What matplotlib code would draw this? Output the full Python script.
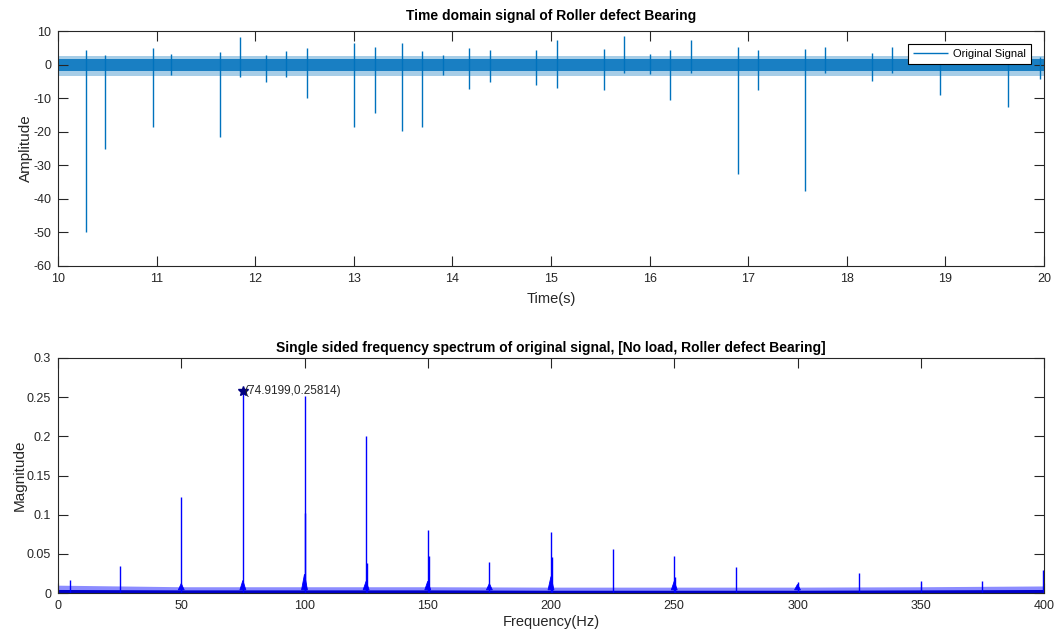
import matplotlib.pyplot as plt

plt.rcParams['font.family'] = ['Liberation Sans', 'DejaVu Sans']
plt.rcParams['axes.unicode_minus'] = False

# ---- time-domain record, 10 s to 20 s ----
# steady vibration band (core and outer fringe), read at the record ends
band_t = [10.0, 20.0]
band_lo = [-1.8, -1.8]
band_hi = [1.7, 1.7]
fringe_lo = [-3.3, -3.3]
fringe_hi = [2.5, 2.5]

# impact events: time, lowest and highest excursion
spike_t = [10.28, 10.48, 10.96, 11.15, 11.64, 11.85, 12.11, 12.31, 12.53,
           13.00, 13.21, 13.49, 13.69, 13.90, 14.17, 14.38, 14.85, 15.06,
           15.54, 15.74, 16.00, 16.21, 16.42, 16.90, 17.10, 17.58, 17.78,
           18.26, 18.46, 18.95, 19.63, 19.96]
spike_lo = [-50.0, -25.0, -18.5, -3.0, -21.5, -3.6, -5.1, -3.6, -10.1,
            -18.5, -14.5, -19.8, -18.5, -3.0, -7.4, -5.1, -6.0, -7.0,
            -7.6, -2.5, -2.8, -10.6, -2.5, -32.5, -7.6, -37.6, -2.5,
            -4.8, -2.5, -9.1, -12.6, -4.3]
spike_hi = [4.3, 2.9, 5.0, 3.0, 3.6, 8.3, 2.9, 3.9, 4.8,
            6.3, 5.3, 6.3, 3.9, 2.8, 5.0, 4.3, 4.3, 7.3,
            4.6, 8.5, 3.0, 4.3, 7.3, 5.3, 4.3, 4.5, 5.3,
            3.4, 5.3, 2.2, 2.2, 2.2]

# ---- single sided spectrum ----
floor_f = [0, 50, 100, 150, 200, 250, 300, 350, 400]
floor_hi = [0.0045, 0.004, 0.004, 0.004, 0.0035, 0.0035, 0.0035, 0.004, 0.0045]
floor_peak = [0.010, 0.008, 0.008, 0.008, 0.0075, 0.0075, 0.0075, 0.008, 0.009]

peak_f = [5, 25, 50, 74.9199, 100, 100.4, 125, 125.4, 150, 150.4, 175,
          200, 200.4, 225, 250, 250.4, 275, 300, 325, 350, 375, 399.7]
peak_mag = [0.017, 0.0345, 0.122, 0.25814, 0.252, 0.102, 0.200, 0.038,
            0.081, 0.047, 0.040, 0.0775, 0.046, 0.0557, 0.047, 0.021,
            0.0328, 0.0145, 0.026, 0.0157, 0.015, 0.029]

# widened bases around the main harmonics
bump_f = [50, 75, 100, 125, 150, 175, 200, 250, 300]
bump_mag = [0.012, 0.016, 0.024, 0.015, 0.015, 0.012, 0.021, 0.015, 0.011]

max_f, max_mag = 74.9199, 0.25814

sig_color = '#0072BD'
ax_color = '#262626'

fig = plt.figure(figsize=(10.54, 6.41), dpi=100)
ax1 = fig.add_axes([58 / 1054, 1 - 266 / 641, 986 / 1054, 235 / 641])
ax2 = fig.add_axes([58 / 1054, 1 - 593 / 641, 986 / 1054, 235 / 641])

# top: time signal
ax1.fill_between(band_t, fringe_lo, fringe_hi, color=sig_color, alpha=0.35, lw=0)
ax1.fill_between(band_t, band_lo, band_hi, color=sig_color, alpha=0.85, lw=0)
ax1.vlines(spike_t, spike_lo, spike_hi, color=sig_color, lw=1.0,
           label='Original Signal')
ax1.set_xlim(10, 20)
ax1.set_ylim(-60, 10)
ax1.set_xticks(range(10, 21))
ax1.set_yticks(range(-60, 11, 10))
ax1.set_title('Time domain signal of Roller defect Bearing',
              fontsize=10, fontweight='bold', pad=8)
ax1.set_xlabel('Time(s)', fontsize=10.5, color=ax_color, labelpad=5)
ax1.set_ylabel('Amplitude', fontsize=11, color=ax_color, labelpad=0)
leg = ax1.legend(loc='upper right', fontsize=8, fancybox=False, framealpha=1,
                 edgecolor='black', handlelength=3.2, handletextpad=0.4,
                 borderaxespad=1.2, borderpad=0.45)
leg.get_frame().set_linewidth(0.8)

# bottom: magnitude spectrum
ax2.fill_between(floor_f, 0, floor_peak, color='b', alpha=0.45, lw=0)
ax2.fill_between(floor_f, 0, floor_hi, color='#0000cc', lw=0)
for f, h in zip(bump_f, bump_mag):
    ax2.fill([f - 1.2, f, f + 1.2], [0.004, h, 0.004], color='b', lw=0.6)
ax2.vlines(peak_f, 0, peak_mag, color='b', lw=1.0)
ax2.plot([max_f], [max_mag], marker='*', color='#000080', ms=7, ls='none')
ax2.annotate(f'({max_f:g},{max_mag:g})', xy=(max_f, max_mag),
             xytext=(1, 0), textcoords='offset points',
             fontsize=8.5, va='center', ha='left', color=ax_color)
ax2.set_xlim(0, 400)
ax2.set_ylim(0, 0.3)
ax2.set_xticks(range(0, 401, 50))
ytk = [0, 0.05, 0.1, 0.15, 0.2, 0.25, 0.3]
ax2.set_yticks(ytk)
ax2.set_yticklabels([f'{v:g}' for v in ytk])
ax2.set_title('Single sided frequency spectrum of original signal, '
              '[No load, Roller defect Bearing]',
              fontsize=10, fontweight='bold', pad=4)
ax2.set_xlabel('Frequency(Hz)', fontsize=10.5, color=ax_color, labelpad=2)
ax2.set_ylabel('Magnitude', fontsize=11, color=ax_color, labelpad=0)

for ax in (ax1, ax2):
    ax.tick_params(direction='in', length=7, width=0.8, top=True, right=True,
                   labelsize=9, colors=ax_color, pad=5)
    for s in ax.spines.values():
        s.set_color(ax_color)
        s.set_linewidth(0.8)

fig.savefig('out.png', dpi=100)
